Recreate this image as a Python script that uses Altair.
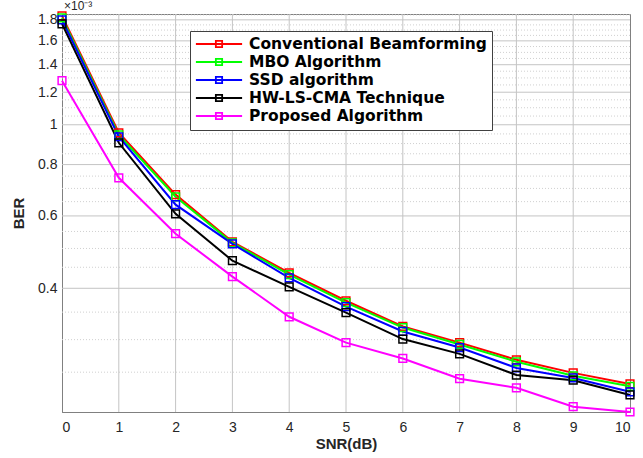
import altair as alt
import pandas as pd

snr = list(range(11))
names = ["Conventional Beamforming", "MBO Algorithm", "SSD algorithm",
         "HW-LS-CMA Technique", "Proposed Algorithm"]
colors = ["#ff0000", "#00ff00", "#0000ff", "#000000", "#ff00ff"]

# BER values in units of 1e-3
conventional = [1.84, 0.956, 0.676, 0.519, 0.436, 0.373, 0.323, 0.295, 0.268, 0.249, 0.234]
mbo = [1.82, 0.945, 0.668, 0.516, 0.432, 0.369, 0.321, 0.292, 0.265, 0.245, 0.231]
ssd = [1.80, 0.935, 0.639, 0.513, 0.424, 0.361, 0.314, 0.287, 0.256, 0.242, 0.224]
hw = [1.76, 0.904, 0.607, 0.467, 0.403, 0.349, 0.301, 0.277, 0.246, 0.239, 0.220]
proposed = [1.28, 0.743, 0.543, 0.427, 0.341, 0.295, 0.270, 0.241, 0.229, 0.206, 0.200]

major_ticks = [0.4, 0.6, 0.8, 1.0, 1.2, 1.4, 1.6, 1.8]
minor_ticks = [0.25, 0.3, 0.35, 0.45, 0.5, 0.55, 0.65, 0.7, 0.75, 0.85, 0.9, 0.95,
               1.05, 1.1, 1.15, 1.25, 1.3, 1.35, 1.45, 1.5, 1.55, 1.65, 1.7, 1.75, 1.85]
x_ticks = list(range(11))

rows = []
for name, vals in zip(names, [conventional, mbo, ssd, hw, proposed]):
    for s, v in zip(snr, vals):
        rows.append({"method": name, "snr": s, "ber": v})
df = pd.DataFrame(rows)

FONT = "Liberation Sans"
GRID = "#c4c4c4"
yscale = alt.Scale(type="log", domain=[0.2, 1.86], nice=False)
xscale = alt.Scale(domain=[0, 10], nice=False)

yaxis = alt.Axis(values=major_ticks, format=".1~f", title="BER", grid=False,
                 ticks=False, labelPadding=5, titleX=-44, titleY=199,
                 titleBaseline="middle", titleAngle=-90)
xaxis = alt.Axis(values=x_ticks, title="SNR(dB)", grid=False, ticks=False,
                 labelPadding=8, titleX=284, titleY=31, titleBaseline="middle")

minor = alt.Chart(pd.DataFrame({"v": minor_ticks})).mark_rule(
    color="#d0d0d0", strokeDash=[1, 2], strokeWidth=1
).encode(y=alt.Y("v:Q", scale=yscale, axis=yaxis))

hgrid = alt.Chart(pd.DataFrame({"v": major_ticks})).mark_rule(
    color=GRID, strokeWidth=1
).encode(y=alt.Y("v:Q", scale=yscale, axis=yaxis))

vgrid = alt.Chart(pd.DataFrame({"s": x_ticks[1:-1]})).mark_rule(
    color=GRID, strokeWidth=1
).encode(x=alt.X("s:Q", scale=xscale, axis=xaxis))

lines = alt.Chart(df).mark_line(
    strokeWidth=2,
    point=alt.OverlayMarkDef(shape="square", filled=False, size=60, strokeWidth=1.5),
).encode(
    x=alt.X("snr:Q", scale=xscale, axis=xaxis),
    y=alt.Y("ber:Q", scale=yscale, axis=yaxis),
    color=alt.Color("method:N", scale=alt.Scale(domain=names, range=colors),
                    legend=alt.Legend(
                        title=None, orient="none", legendX=128, legendY=17,
                        direction="vertical",
                        symbolType="M-3.3,0L3.3,0M-0.45,-0.45L0.45,-0.45L0.45,0.45L-0.45,0.45Z",
                        symbolSize=196, symbolStrokeWidth=1.8, symbolFillColor="white",
                        symbolOffset=16, labelOffset=22,
                        labelFont="DejaVu Sans", labelFontSize=15.5, labelFontWeight="bold",
                        labelColor="black", labelLimit=400,
                        fillColor="white", strokeColor="#404040",
                        padding=5, rowPadding=1)),
)

note = alt.Chart(pd.DataFrame({"t": ["×10⁻³"]})).mark_text(
    align="left", baseline="alphabetic", fontSize=12, font=FONT, color="#262626"
).encode(x=alt.value(2), y=alt.value(-4), text="t:N")

chart = alt.layer(minor, hgrid, vgrid, lines, note).properties(
    width=568, height=398,
    padding={"left": 62, "top": 14, "right": 13, "bottom": 46},
    autosize=alt.AutoSizeParams(type="none"),
    background="white",
).configure_view(
    stroke="#808080", strokeWidth=1
).configure_axis(
    domainColor="#808080",
    labelFont=FONT, labelFontSize=14, labelColor="#262626",
    titleFont=FONT, titleFontSize=15, titleFontWeight="bold", titleColor="#262626",
)

chart.save("out.html", embed_options={"renderer": "svg", "actions": False})
